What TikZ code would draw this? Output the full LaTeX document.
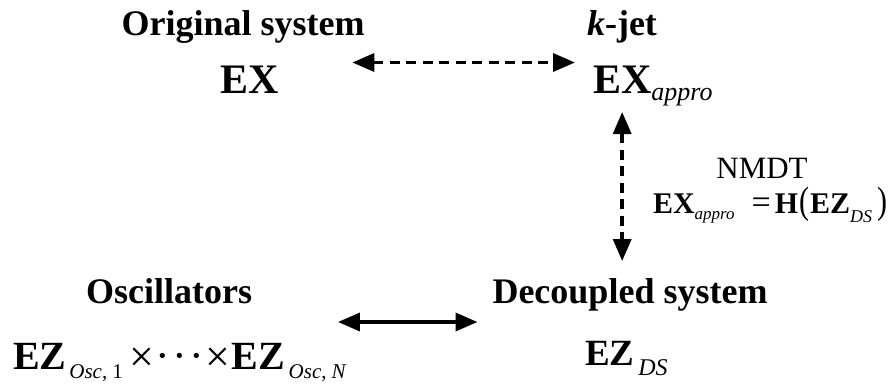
\documentclass[tikz,border=0pt]{standalone}
\usepackage{fontspec}
\setmainfont{Liberation Serif}
\usepackage{graphicx}
\usetikzlibrary{arrows.meta,calc}
\newcommand\fsz[1]{\fontsize{#1}{#1}\selectfont}
% lowered italic subscript: drop, size, text
\newcommand\lowsub[3]{\raisebox{-#1}{\fsz{#2}\mdseries\itshape #3}}
% subscript of an oscillator space
\newcommand\oscsub[1]{\raisebox{-9pt}{\fsz{21}\mdseries\itshape Osc\upshape,\hspace{5pt}#1}}
% operator symbols of the product, centred on the letters
\newcommand\bigtimes{\raisebox{-2pt}{\fsz{44}\mdseries ×}}
\newcommand\middots{\raisebox{-1.5pt}{\fsz{44}\mdseries ·\hspace{2.5pt}·\hspace{2.5pt}·}}
\begin{document}
\begin{tikzpicture}[x=1pt,y=-1pt,
  every node/.style={inner sep=0pt,outer sep=0pt},
  title/.style={font=\bfseries\fsz{36},anchor=base},
  sym/.style={font=\bfseries\fsz{42},anchor=base west},
  link/.style={line width=3.5pt,{Triangle[length=22pt,width=18pt]}-{Triangle[length=22pt,width=18pt]}},
  dashlink/.style={link,dash pattern=on 10pt off 6.5pt},
]
\useasboundingbox (0,0) rectangle (896,389);

% top row
\node[title] (orig) at (243,35) {Original system};
\node[title] (jet) at (622,35) {\textit{k}-jet};
\node[sym] (ex) at (220,93) {EX};
\node[sym] (jex) at (593,93) {EX};
\node[anchor=base west,font=\itshape\fsz{26}] (jsub) at ([yshift=-7pt]jex.base east) {appro};

% transformation label
\node[font=\fsz{31},anchor=base] (nmdt) at (762,178) {NMDT};
\node[anchor=base west,font=\fsz{30}] (eq) at (653,213)
  {\textbf{EX}\lowsub{6pt}{17}{appro}\hspace{17pt}{\fsz{34}=}\hspace{4pt}\textbf{H}\hspace{1pt}\scalebox{1}[1.27]{(}\hspace{1pt}\textbf{EZ}\lowsub{9pt}{18}{DS}\hspace{5pt}\scalebox{1}[1.27]{)}};

% bottom row
\node[title] (osc) at (169,303) {Oscillators};
\node[title] (dec) at (630,303) {Decoupled system};
\node[anchor=base west,font=\fsz{40}] (prod) at (13,369)
  {\textbf{EZ}\hspace{3pt}\oscsub{1}\hspace{7pt}\bigtimes\hspace{1pt}\middots\hspace{1pt}\bigtimes\hspace{1pt}\textbf{EZ}\hspace{4pt}\oscsub{\textit{N}}};
\node[anchor=base west,font=\bfseries\fsz{37}] (dsez) at (585,365) {EZ};
\node[anchor=base west,font=\itshape\fsz{24}] (dssub) at ([xshift=4pt,yshift=-10pt]dsez.base east) {DS};

% connectors
\draw[dashlink] ([xshift=74pt,yshift=3pt]ex.north east) -- ([xshift=-18pt,yshift=3pt]jex.north west);
\draw[dashlink,shorten <=19pt,shorten >=17pt] (jex.south) -- (jex.south |- dec.north);
\draw[link] ($(osc.base east)+(86,19)$) -- ($(dec.base west)+(-15,19)$);
\end{tikzpicture}
\end{document}
